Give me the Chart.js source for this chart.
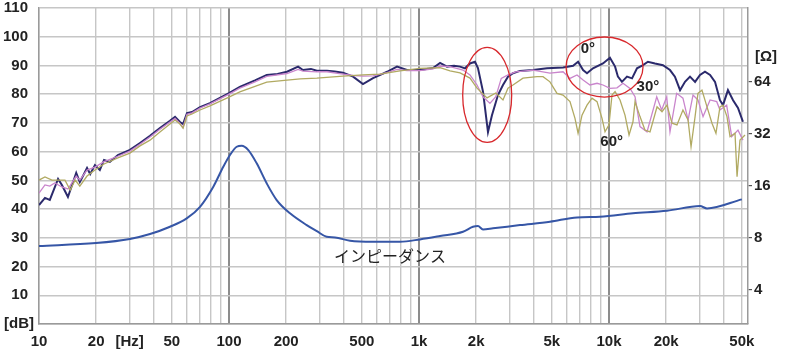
<!DOCTYPE html>
<html>
<head>
<meta charset="utf-8">
<script src="https://cdn.jsdelivr.net/npm/chart.js@4.4.1/dist/chart.umd.min.js"></script>
<style>
  html, body { margin: 0; padding: 0; background: #fff; }
</style>
</head>
<body>
<canvas id="chart" width="790" height="362"></canvas>
<script>
// --- data ---

// 0 deg (on axis)
var freq0 = [10,10.75,11.4,12.6,13.2,14.2,15.7,16.4,17.9,18.6,19.7,20.9,22,23.6,26,30.1,34,38.4,43.3,48.9,52,55.2,57.3,60.1,63.9,70.4,79.4,100,114,137,158,180,202,231,245,270,290,328,360,398,450,507,573,630,679,766,864,1012,1185,1291,1404,1530,1644,1746,1855,1971,2043,2172,2307,2421,2604,2767,2940,3124,3402,3981,4718,5729,6471,6875,7304,7660,8237,9296,10115,10765,11143,11698,12437,13220,14040,15100,16030,17460,19230,20940,22230,23660,25120,26690,28380,30130,32000,34040,36140,38370,39810,42270,44980,47750,50700];
var db0 = [41.4,43.9,43.2,50.5,48.4,44.2,52.6,49.4,54.3,52.2,55.3,53.6,57.1,56.4,58.8,60.6,63.0,65.5,68.2,70.7,72.1,70.3,69.6,73.4,73.8,75.5,76.9,80.4,82.5,84.8,86.7,87.0,87.8,89.6,88.4,88.8,88.2,88.2,87.9,87.5,86.1,83.5,85.6,86.8,87.8,89.6,88.4,88.4,89.1,90.9,89.6,89.9,89.6,89.0,90.7,91.3,89.1,80.9,66.8,72.7,79.7,83.2,86.1,87.3,88.1,88.4,89.0,89.3,89.9,91.3,88.4,87.3,89.0,90.7,92.7,89.6,86.1,84.3,86.1,85.5,89.0,90.1,91.3,90.7,90.1,88.4,86.1,81.4,84.3,86.1,84.3,86.7,87.8,86.7,84.3,77.9,76.2,81.4,77.9,75.2,70.4];

// 30 deg
var freq30 = [10,10.75,11.4,12.1,13.2,14.2,15.7,16.4,17.9,19.7,22,26,30.1,34,38.4,43.3,48.9,52,55.2,57.3,60.1,63.9,70.4,79.4,100,114,137,158,202,231,245,290,328,398,450,507,573,679,766,864,1012,1185,1291,1456,1705,1855,2020,2172,2363,2536,2710,2940,3230,3981,4890,5729,6233,6786,7304,7943,8650,9296,10115,11020,11850,12900,13710,14560,15850,17830,18930,20130,20940,22700,24500,26070,27680,29390,31260,34040,36900,38370,41620,44240,47750,50700];
var db30 = [45.6,48.4,48.0,49.1,47.7,47.0,51.5,50.1,53.6,54.6,56.5,58.4,60.2,62.6,65.1,67.8,70.3,71.6,69.8,68.4,73.0,73.5,75.2,76.6,80.0,82.1,84.3,86.2,87.2,88.6,88.0,87.8,87.8,87.0,86.5,86.3,86.4,87.5,88.6,88.2,88.2,88.8,89.8,89.6,88.4,86.7,83.2,79.1,76.8,79.1,85.5,86.7,87.8,88.4,87.3,87.8,85.5,86.7,84.9,83.2,83.8,83.2,82.0,82.2,83.8,82.0,79.1,68.7,66.9,79.1,74.5,79.1,66.9,80.3,78.6,71.0,79.7,78.0,72.2,78.0,77.4,74.5,76.2,65.2,67.5,64.0];

// 60 deg
var freq60 = [10,10.75,11.7,12.6,13.7,14.6,15.5,16.4,17.9,19.7,22,26,30.1,34,38.4,43.3,48.9,52,55.2,57.3,60.1,63.9,70.4,79.4,100,114,158,202,237,290,398,507,623,794,1012,1291,1456,1644,1855,2020,2280,2536,2767,2940,3124,3525,4180,4496,4890,5325,5729,6233,6622,6875,7210,7660,8140,8650,9190,9530,10000,10370,10765,11430,12140,12750,13370,13710,14560,15460,16440,17900,19010,20190,21470,22790,24500,26070,27030,28380,29390,30850,32800,34840,36560,38370,39810,41780,43350,46050,47200,48910,51980];
var db60 = [50.1,51.2,50.1,50.1,50.1,46.6,50.1,48.0,51.5,53.6,55.7,57.8,59.5,62.0,64.0,66.8,69.6,71.0,69.6,68.2,72.4,73.1,74.5,75.9,79.0,80.8,84.2,84.9,85.3,85.6,86.3,86.7,87.0,88.1,89.0,89.2,88.1,87.4,85.6,82.1,78.7,80.4,78.0,82.1,83.2,85.6,86.1,86.1,84.3,80.3,79.7,77.4,71.6,66.4,72.7,76.2,78.6,77.4,71.6,66.9,69.3,79.7,80.9,78.0,72.7,65.8,70.4,77.4,72.2,67.5,66.9,75.6,73.9,76.2,69.9,69.3,74.5,71.0,61.7,72.2,80.3,81.4,75.6,69.9,66.4,75.6,76.2,72.2,65.2,66.4,51.3,64.0,65.8];

// impedance, ohms (right axis)
var impFreq = [10,19.95,30.1,38.4,48.9,59.9,70.4,82.7,93.3,101.2,109.8,116.6,126.4,139.9,157.9,178.2,209.5,256.4,290,326.6,361.4,433.5,573,794,1012,1291,1705,1923,2043,2172,2451,3402,4890,6786,8970,13370,20190,30130,32800,50000];
var impOhm = [7.19,7.48,7.90,8.44,9.30,10.40,12.14,15.86,20.69,24.19,27.02,27.38,25.85,21.66,16.59,13.28,11.12,9.51,8.77,8.14,8.06,7.72,7.62,7.62,7.86,8.22,8.70,9.30,9.39,8.98,9.11,9.51,9.94,10.54,10.63,11.12,11.51,12.25,11.88,13.40];

// axes
var xGrid = [10,20,30,40,50,60,70,80,90,100,200,300,400,500,600,700,800,900,1000,2000,3000,4000,5000,6000,7000,8000,9000,10000,20000,30000,40000,50000];
var xLabels = { 10: "10", 20: "20", 30: "[Hz]", 50: "50", 100: "100", 200: "200", 500: "500", 1000: "1k", 2000: "2k", 5000: "5k", 10000: "10k", 20000: "20k", 50000: "50k" };
var xMajor = [100, 1000, 10000];
var ohmTicks = [4, 8, 16, 32, 64];

// annotations (data units)
var rings = [
  { f: [1698, 3075], db: [63.2, 96.3] },
  { f: [5940, 15100], db: [79.0, 99.9] }
];
var notes = [
  { text: "0°", f: 7745, db: 95.7 },
  { text: "30°", f: 16030, db: 82.5 },
  { text: "60°", f: 10330, db: 63.5 },
  { text: "インピーダンス", f: 703, db: 23.7 }
];

var FONT = "'Liberation Sans', Arial, sans-serif";
var TICK_FONT = { family: FONT, size: 15, weight: "bold" };

function pairs(xs, ys) {
  return xs.map(function (x, i) { return { x: x, y: ys[i] }; });
}

// keep the plot area where the reference has it
function noPad(s) {
  s.paddingTop = 0;
  s.paddingBottom = 0;
  s.paddingLeft = 0;
  s.paddingRight = 0;
}

var overlay = {
  id: "overlay",
  afterDatasetsDraw: function (chart) {
    var ctx = chart.ctx;
    var sx = chart.scales.x, sy = chart.scales.y, sy2 = chart.scales.y2;
    var area = chart.chartArea;
    ctx.save();
    ctx.strokeStyle = "#d8282c";
    ctx.lineWidth = 1.3;
    rings.forEach(function (r) {
      var x0 = sx.getPixelForValue(r.f[0]), x1 = sx.getPixelForValue(r.f[1]);
      var y0 = sy.getPixelForValue(r.db[0]), y1 = sy.getPixelForValue(r.db[1]);
      ctx.beginPath();
      ctx.ellipse((x0 + x1) / 2, (y0 + y1) / 2, Math.abs(x1 - x0) / 2, Math.abs(y1 - y0) / 2, 0, 0, Math.PI * 2);
      ctx.stroke();
    });
    ctx.fillStyle = "#222";
    ctx.textAlign = "center";
    ctx.textBaseline = "middle";
    notes.forEach(function (n) {
      ctx.font = n.text.length > 3 ? "16px 'Noto Sans CJK JP', sans-serif" : "bold 15px " + FONT;
      ctx.fillText(n.text, sx.getPixelForValue(n.f), sy.getPixelForValue(n.db));
    });
    // axis units
    ctx.font = "bold 15px " + FONT;
    ctx.textAlign = "left";
    ctx.fillText("[Ω]", area.right + 7, sy2.getPixelForValue(90));
    ctx.textAlign = "right";
    ctx.fillText("[dB]", area.left - 5, sy.getPixelForValue(0));
    ctx.restore();
  }
};

new Chart(document.getElementById("chart"), {
  type: "line",
  data: {
    datasets: [
      { label: "インピーダンス", data: pairs(impFreq, impOhm), yAxisID: "y2", borderColor: "#3656a6", borderWidth: 2, pointRadius: 0, cubicInterpolationMode: "monotone" },
      { label: "60°", data: pairs(freq60, db60), borderColor: "#b1aa62", borderWidth: 1.3, pointRadius: 0, tension: 0 },
      { label: "30°", data: pairs(freq30, db30), borderColor: "#c985cc", borderWidth: 1.3, pointRadius: 0, tension: 0 },
      { label: "0°", data: pairs(freq0, db0), borderColor: "#2b2a6c", borderWidth: 2, pointRadius: 0, tension: 0 }
    ]
  },
  options: {
    responsive: false,
    animation: false,
    layout: { padding: { top: 8, left: 0, right: 0, bottom: 0 } },
    plugins: { legend: { display: false }, tooltip: { enabled: false } },
    scales: {
      x: {
        type: "logarithmic",
        min: 10,
        max: 53900,
        afterBuildTicks: function (s) { s.ticks = xGrid.map(function (v) { return { value: v }; }); },
        afterFit: function (s) { s.height = 38; noPad(s); },
        ticks: {
          autoSkip: false, maxRotation: 0, padding: 9, color: "#222",
          font: TICK_FONT,
          callback: function (v) { return xLabels[v] || ""; }
        },
        grid: {
          drawTicks: false,
          color: function (c) { return c.tick && xMajor.indexOf(c.tick.value) >= 0 ? "#8c8c8c" : "#c6c6c6"; },
          lineWidth: function (c) { return c.tick && xMajor.indexOf(c.tick.value) >= 0 ? 2 : 1.4; }
        },
        border: { color: "#9a9a9a", width: 1.5 }
      },
      y: {
        min: 0,
        max: 110,
        afterFit: function (s) { s.width = 39; noPad(s); },
        ticks: {
          stepSize: 10, padding: 11, color: "#222",
          font: TICK_FONT,
          callback: function (v) { return v === 0 ? "" : v; }
        },
        grid: { drawTicks: false, color: "#c6c6c6", lineWidth: 1.4 },
        border: { color: "#9a9a9a", width: 1.5 }
      },
      y2: {
        type: "logarithmic",
        position: "right",
        min: 2.546,
        max: 171.6,
        afterBuildTicks: function (s) { s.ticks = ohmTicks.map(function (v) { return { value: v }; }); },
        afterFit: function (s) { s.width = 42; noPad(s); },
        ticks: {
          padding: 2, color: "#222",
          font: TICK_FONT,
          callback: function (v) { return String(v); }
        },
        grid: { drawOnChartArea: false, drawTicks: true, tickLength: 4, color: "#555", lineWidth: 1.2 },
        border: { color: "#9a9a9a", width: 1.5 }
      }
    }
  },
  plugins: [overlay]
});
</script>
</body>
</html>
